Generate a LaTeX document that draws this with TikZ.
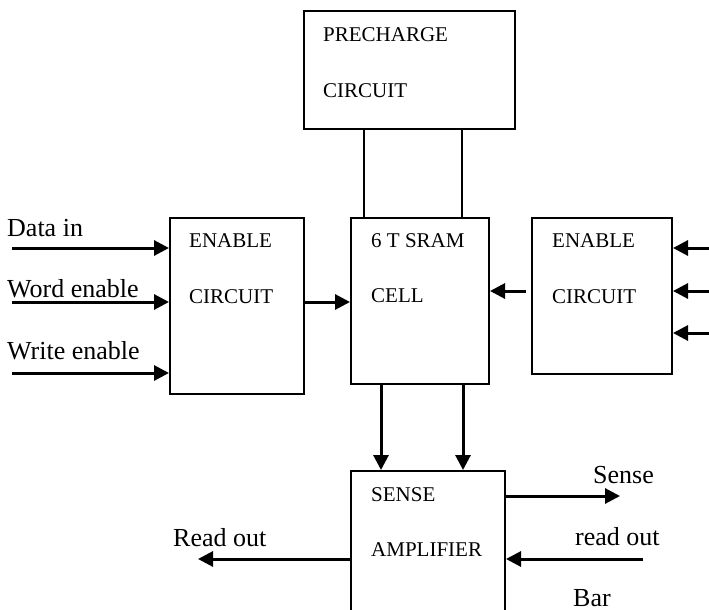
\documentclass[tikz,border=0pt]{standalone}
\usepackage{fontspec}
\setmainfont{Liberation Serif}
\usetikzlibrary{arrows.meta}
\begin{document}
\begin{tikzpicture}[x=1pt,y=-1pt,
  blk/.style={draw,line width=2pt,rectangle,inner sep=0pt,anchor=north west},
  btxt/.style={anchor=base west,inner sep=0pt,font=\fontsize{21}{25}\selectfont},
  ltxt/.style={anchor=base west,inner sep=0pt,font=\fontsize{26}{30}\selectfont},
  arr/.style={line width=3pt,-{Triangle[length=15pt,width=15pt]}},
  wire/.style={line width=2pt}]
\useasboundingbox (0,0) rectangle (709,610);
\clip (0,0) rectangle (709,610);
% boxes
\node[blk,minimum width=211pt,minimum height=118pt] (pre) at (303,10) {};
\node[blk,minimum width=138pt,minimum height=166pt] (sram) at (350,217) {};
\node[blk,minimum width=134pt,minimum height=176pt] (encL) at (169,217) {};
\node[blk,minimum width=140pt,minimum height=156pt] (encR) at (531,217) {};
\node[blk,minimum width=154pt,minimum height=170pt] (sense) at (350,470) {};
% box texts
\node[btxt] (preA) at (323,42) {PRECHARGE};
\node[btxt] (preB) at (323,97) {CIRCUIT};
\node[btxt] (sramA) at (371,247) {6 T SRAM};
\node[btxt] (sramB) at (371,302) {CELL};
\node[btxt] (encLA) at (189,247) {ENABLE};
\node[btxt] (encLB) at (189,303) {CIRCUIT};
\node[btxt] (encRA) at (552,247) {ENABLE};
\node[btxt] (encRB) at (552,303) {CIRCUIT};
\node[btxt] (senA) at (371,501) {SENSE};
\node[btxt] (senB) at (371,556) {AMPLIFIER};
% outside labels
\node[ltxt] (lData) at (7,236) {Data in};
\node[ltxt] (lWord) at (7,297) {Word enable};
\node[ltxt] (lWrite) at (7,359) {Write enable};
\node[ltxt] (lSense) at (593,483) {Sense};
\node[ltxt] (lRob) at (575,545) {read out};
\node[ltxt] (lBar) at (573,606) {Bar};
\node[ltxt] (lRead) at (173,546) {Read out};
% free ends
\coordinate (inA) at (12,248);
\coordinate (inB) at (12,302);
\coordinate (inC) at (12,373);
\coordinate (rinA) at (709,248);
\coordinate (rinB) at (709,291);
\coordinate (rinC) at (709,333);
\coordinate (senseEnd) at (620,496);
\coordinate (robStart) at (643,559);
\coordinate (readEnd) at (198,559);
% precharge to sram
\draw[wire] (pre.south -| 364,0) -- (sram.north -| 364,0);
\draw[wire] (pre.south -| 462,0) -- (sram.north -| 462,0);
% left inputs
\draw[arr] (inA) -- (encL.west |- inA);
\draw[arr] (inB) -- (encL.west |- inB);
\draw[arr] (inC) -- (encL.west |- inC);
% right inputs
\draw[arr] (rinA) -- (encR.east |- rinA);
\draw[arr] (rinB) -- (encR.east |- rinB);
\draw[arr] (rinC) -- (encR.east |- rinC);
% enables to sram
\draw[arr] (encL.east |- 0,302) -- (sram.west |- 0,302);
\draw[arr] ([xshift=-5pt]encR.west |- 0,291) -- (sram.east |- 0,291);
% sram to sense
\draw[arr] (sram.south -| 381,0) -- (sense.north -| 381,0);
\draw[arr] (sram.south -| 463,0) -- (sense.north -| 463,0);
% sense outputs
\draw[arr] (sense.east |- senseEnd) -- (senseEnd);
\draw[arr] (robStart) -- (sense.east |- robStart);
\draw[arr] (sense.west |- readEnd) -- (readEnd);
\end{tikzpicture}
\end{document}
